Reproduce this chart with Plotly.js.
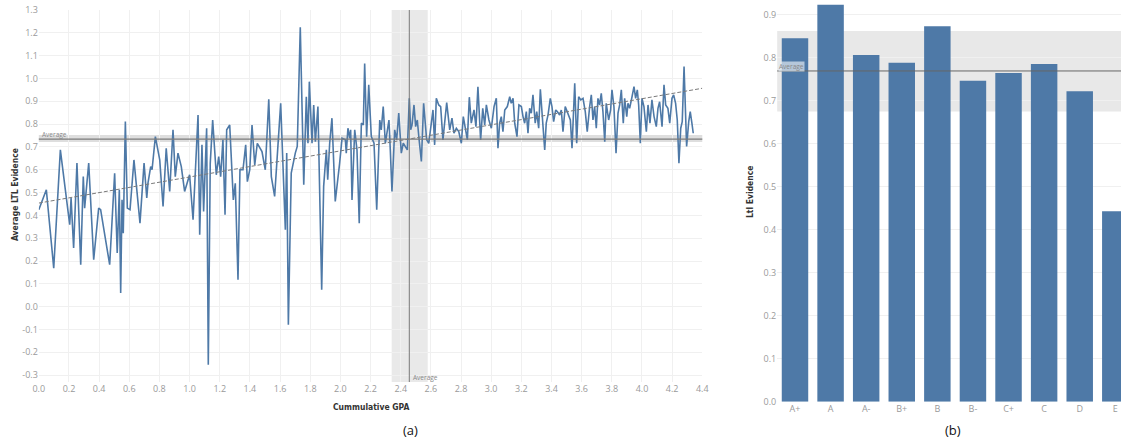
<!DOCTYPE html>
<html>
<head>
<meta charset="utf-8">
<script src="https://cdn.plot.ly/plotly-3.0.1.min.js"></script>
<style>
html,body{margin:0;padding:0;background:#fff;overflow:hidden;}
#chart{width:1121px;height:440px;}
</style>
</head>
<body>
<div id="chart"></div>
<script>
// ---- Panel (a): average LTL evidence by cumulative GPA ----
const gpa = [
0.00,0.05,0.099,0.143,0.205,0.214,0.231,0.253,0.278,0.295,0.304,0.331,0.364,0.397,0.41,0.47,0.503,0.52,0.534,0.543,
0.552,0.56,0.574,0.587,0.605,0.631,0.671,0.698,0.716,0.724,0.742,0.751,0.773,0.802,0.824,0.845,0.868,0.89,0.905,0.923,
0.945,0.967,1.0,1.023,1.056,1.067,1.082,1.093,1.113,1.124,1.137,1.153,1.177,1.193,1.206,1.221,1.235,1.246,1.266,1.29,
1.303,1.321,1.334,1.354,1.372,1.383,1.399,1.414,1.432,1.449,1.48,1.502,1.525,1.542,1.564,1.604,1.635,1.644,1.655,1.674,
1.701,1.714,1.734,1.757,1.774,1.785,1.794,1.812,1.823,1.834,1.851,1.876,1.889,1.907,1.916,1.929,1.944,1.966,1.995,2.011,
2.033,2.039,2.05,2.062,2.068,2.077,2.095,2.11,2.125,2.139,2.152,2.161,2.174,2.188,2.205,2.223,2.241,2.261,2.271,2.284,
2.298,2.309,2.322,2.331,2.342,2.36,2.373,2.387,2.404,2.417,2.43,2.444,2.457,2.466,2.475,2.488,2.499,2.51,2.521,2.537,
2.552,2.572,2.586,2.599,2.614,2.625,2.636,2.652,2.665,2.68,2.705,2.725,2.74,2.753,2.769,2.785,2.802,2.815,2.828,2.842,
2.855,2.868,2.886,2.899,2.912,2.924,2.93,2.944,2.957,2.968,2.985,3.001,3.019,3.034,3.045,3.056,3.067,3.078,3.09,3.107,
3.123,3.133,3.145,3.156,3.171,3.184,3.2,3.211,3.222,3.233,3.244,3.255,3.266,3.277,3.292,3.302,3.315,3.326,3.339,3.355,
3.365,3.377,3.392,3.403,3.414,3.428,3.438,3.454,3.465,3.476,3.491,3.503,3.514,3.525,3.536,3.554,3.567,3.58,3.594,3.609,
3.624,3.637,3.653,3.664,3.675,3.686,3.697,3.708,3.719,3.73,3.741,3.753,3.763,3.779,3.792,3.801,3.814,3.828,3.841,3.852,
3.863,3.876,3.885,3.899,3.907,3.918,3.934,3.947,3.958,3.969,3.978,3.989,4.0,4.013,4.029,4.04,4.053,4.066,4.08,4.095,
4.106,4.117,4.133,4.146,4.157,4.172,4.184,4.199,4.21,4.223,4.234,4.245,4.257,4.267,4.279,4.296,4.31,4.32,4.331,4.34
];
const ltlEvidence = [
0.425,0.512,0.169,0.687,0.359,0.476,0.257,0.629,0.184,0.570,0.432,0.629,0.206,0.432,0.425,0.184,0.585,0.235,0.512,0.060,
0.468,0.322,0.811,0.432,0.425,0.643,0.366,0.629,0.476,0.541,0.614,0.600,0.745,0.643,0.439,0.694,0.505,0.775,0.570,0.673,
0.614,0.505,0.578,0.381,0.840,0.315,0.709,0.417,0.782,-0.254,0.629,0.818,0.578,0.658,0.570,0.731,0.403,0.775,0.796,0.468,
0.541,0.118,0.600,0.600,0.709,0.548,0.600,0.796,0.621,0.716,0.680,0.600,0.909,0.570,0.483,0.891,0.337,0.673,-0.079,0.585,
0.673,0.702,1.224,0.534,0.920,0.716,0.986,0.716,0.884,0.723,0.877,0.074,0.527,0.687,0.556,0.716,0.826,0.461,0.629,0.738,
0.731,0.673,0.782,0.738,0.775,0.468,0.775,0.687,0.366,0.804,0.796,1.066,0.745,0.972,0.745,0.716,0.425,0.818,0.775,0.877,
0.716,0.775,0.818,0.687,0.505,0.775,0.731,0.848,0.673,0.716,0.702,0.687,0.913,0.775,0.796,0.884,0.789,0.818,0.738,0.636,
0.891,0.731,0.716,0.775,0.862,0.709,0.913,0.884,0.877,0.731,0.894,0.775,0.826,0.760,0.782,0.767,0.716,0.833,0.775,0.731,
0.918,0.804,0.862,0.789,0.964,0.789,0.731,0.869,0.796,0.884,0.818,0.782,0.877,0.913,0.694,0.804,0.833,0.767,0.862,0.877,
0.920,0.891,0.913,0.804,0.745,0.884,0.877,0.833,0.804,0.855,0.760,0.869,0.848,0.928,0.804,0.855,0.782,0.953,0.840,0.687,
0.804,0.840,0.913,0.877,0.811,0.862,0.855,0.840,0.862,0.767,0.877,0.855,0.833,0.818,0.694,0.979,0.716,0.920,0.906,0.913,
0.855,0.767,0.877,0.928,0.818,0.877,0.782,0.913,0.884,0.935,0.855,0.723,0.891,0.818,0.862,0.950,0.877,0.673,0.848,0.884,
0.950,0.804,0.913,0.833,0.891,0.869,0.920,0.964,0.913,0.950,0.884,0.716,0.913,0.877,0.767,0.884,0.804,0.906,0.833,0.789,
0.869,0.898,0.789,0.972,0.884,0.869,0.804,0.913,0.928,0.891,0.818,0.629,0.782,0.811,1.052,0.702,0.811,0.855,0.804,0.760
];
const trendX = [0, 4.4];
const trendY = [0.454, 0.957];
const avgEvidenceA = 0.734, avgBandA = [0.722, 0.752];
const avgGpa = 2.457, avgGpaBand = [2.34, 2.579];

const xTickVals = [0,0.2,0.4,0.6,0.8,1.0,1.2,1.4,1.6,1.8,2.0,2.2,2.4,2.6,2.8,3.0,3.2,3.4,3.6,3.8,4.0,4.2,4.4];
const xTickText = ["0.0","0.2","0.4","0.6","0.8","1.0","1.2","1.4","1.6","1.8","2.0","2.2","2.4","2.6","2.8","3.0","3.2","3.4","3.6","3.8","4.0","4.2","4.4"];
const yTickVals = [-0.3,-0.2,-0.1,0,0.1,0.2,0.3,0.4,0.5,0.6,0.7,0.8,0.9,1.0,1.1,1.2,1.3];
const yTickText = ["-0.3","-0.2","-0.1","0.0","0.1","0.2","0.3","0.4","0.5","0.6","0.7","0.8","0.9","1.0","1.1","1.2","1.3"];

// ---- Panel (b): LTL evidence by grade ----
const grades = ["A+","A","A-","B+","B","B-","C+","C","D","E"];
const gradeEvidence = [0.845,0.923,0.806,0.788,0.873,0.746,0.764,0.785,0.722,0.443];
const avgEvidenceB = 0.769, avgBandB = [0.675, 0.862];
const y2TickVals = [0,0.1,0.2,0.3,0.4,0.5,0.6,0.7,0.8,0.9];
const y2TickText = ["0.0","0.1","0.2","0.3","0.4","0.5","0.6","0.7","0.8","0.9"];

const W = 1121, H = 440;
const px = v => v / W, py = v => 1 - v / H;
const tickFont = {family: "Open Sans, sans-serif", size: 9, color: "#9a9a9a"};
const titleFont = {family: "DejaVu Sans Condensed, sans-serif", size: 8.5, color: "#333"};
const smallFont = {family: "Open Sans, sans-serif", size: 6.5, color: "#888"};

const traces = [
  {x: gpa, y: ltlEvidence, type: "scatter", mode: "lines", xaxis: "x", yaxis: "y",
   line: {color: "#4e79a7", width: 1.6}, hoverinfo: "x+y"},
  {x: trendX, y: trendY, type: "scatter", mode: "lines", xaxis: "x", yaxis: "y",
   line: {color: "#7a7a7a", width: 1, dash: "4px,2px"}, hoverinfo: "skip"},
  {x: grades, y: gradeEvidence, type: "bar", xaxis: "x2", yaxis: "y2",
   marker: {color: "#4e79a7"}}
];

const layout = {
  width: W, height: H,
  margin: {l: 0, r: 0, t: 0, b: 0},
  paper_bgcolor: "#fff", plot_bgcolor: "rgba(0,0,0,0)",
  showlegend: false,
  bargap: 0.256,
  xaxis: {domain: [px(38.8), px(702.3)], range: [0, 4.4], anchor: "y",
          tickvals: xTickVals, ticktext: xTickText, tickfont: tickFont,
          showgrid: true, gridcolor: "#f0f0f0", zeroline: false, showline: false, ticks: ""},
  yaxis: {domain: [py(382), py(10)], range: [-0.33, 1.30], anchor: "x",
          tickvals: yTickVals, ticktext: yTickText, tickfont: tickFont,
          showgrid: true, gridcolor: "#f0f0f0", zeroline: false, showline: false, ticks: ""},
  xaxis2: {domain: [px(777.2), 1], range: [-0.5, 9.16], anchor: "y2", type: "category",
           tickfont: tickFont, showgrid: false, zeroline: false, showline: false, ticks: ""},
  yaxis2: {domain: [py(401.7), 1], range: [0, 0.934], anchor: "x2",
           tickvals: y2TickVals, ticktext: y2TickText, tickfont: tickFont,
           showgrid: true, gridcolor: "#f0f0f0", zeroline: false, showline: false, ticks: ""},
  shapes: [
    {type: "rect", xref: "x domain", yref: "y", x0: 0, x1: 1, y0: avgBandA[0], y1: avgBandA[1],
     fillcolor: "rgba(0,0,0,0.13)", line: {width: 0}, layer: "below"},
    {type: "rect", xref: "x", yref: "y domain", x0: avgGpaBand[0], x1: avgGpaBand[1], y0: 0, y1: 1,
     fillcolor: "#e9e9e9", line: {width: 0}, layer: "below"},
    {type: "line", xref: "x domain", yref: "y", x0: 0, x1: 1, y0: avgEvidenceA, y1: avgEvidenceA,
     line: {color: "#7a7a7a", width: 1.2}, layer: "above"},
    {type: "line", xref: "x", yref: "y domain", x0: avgGpa, x1: avgGpa, y0: 0, y1: 1,
     line: {color: "#7a7a7a", width: 1}, layer: "above"},
    {type: "rect", xref: "x2 domain", yref: "y2", x0: 0, x1: 1, y0: avgBandB[0], y1: avgBandB[1],
     fillcolor: "#e8e8e8", line: {width: 0}, layer: "below"},
    {type: "line", xref: "x2 domain", yref: "y2", x0: 0, x1: 1, y0: avgEvidenceB, y1: avgEvidenceB,
     line: {color: "#666", width: 1}, layer: "above"}
  ],
  annotations: [
    {text: "<b>Average LTL Evidence</b>", xref: "paper", yref: "paper", x: px(15), y: py(195),
     textangle: -90, showarrow: false, font: titleFont, xanchor: "center", yanchor: "middle"},
    {text: "<b>Cummulative GPA</b>", xref: "paper", yref: "paper", x: px(371), y: py(406.5),
     showarrow: false, font: titleFont, xanchor: "center", yanchor: "middle"},
    {text: "<b>Ltl Evidence</b>", xref: "paper", yref: "paper", x: px(749.5), y: py(192.5),
     textangle: -90, showarrow: false, font: titleFont, xanchor: "center", yanchor: "middle"},
    {text: "(a)", xref: "paper", yref: "paper", x: px(410.5), y: py(430),
     showarrow: false, font: {family: "Open Sans, sans-serif", size: 13, color: "#111"}, xanchor: "center", yanchor: "middle"},
    {text: "(b)", xref: "paper", yref: "paper", x: px(953), y: py(430),
     showarrow: false, font: {family: "Open Sans, sans-serif", size: 13, color: "#111"}, xanchor: "center", yanchor: "middle"},
    {text: "Average", xref: "paper", yref: "paper", x: px(39.5), y: py(134),
     showarrow: false, font: smallFont, xanchor: "left", yanchor: "middle"},
    {text: "Average", xref: "paper", yref: "paper", x: px(411), y: py(377),
     showarrow: false, font: smallFont, xanchor: "left", yanchor: "middle"},
    {text: "Average", xref: "paper", yref: "paper", x: px(777.5), y: py(66),
     showarrow: false, font: smallFont, xanchor: "left", yanchor: "middle",
     bgcolor: "rgba(225,232,240,0.7)", borderpad: 0}
  ]
};

Plotly.newPlot("chart", traces, layout, {displayModeBar: false, staticPlot: true});
</script>
</body>
</html>
